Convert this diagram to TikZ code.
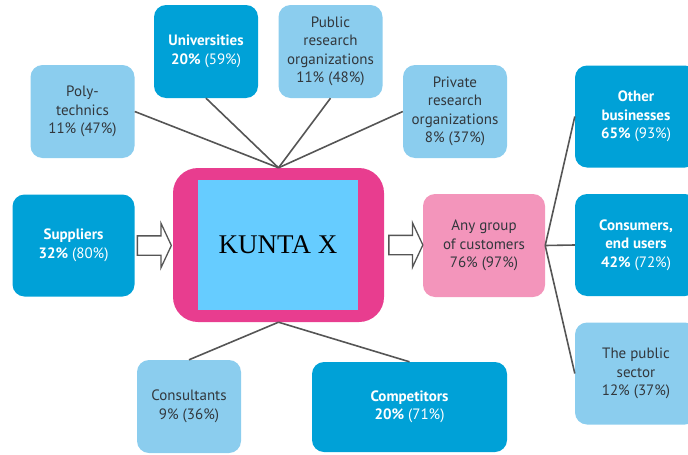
\documentclass[tikz,border=0pt]{standalone}
\usepackage{fontspec}
\setmainfont{PT Sans}
\newfontfamily\kuntafont{Liberation Serif}
\usetikzlibrary{positioning,shapes.arrows}

\definecolor{deepblue}{RGB}{0,161,215}
\definecolor{lightblue}{RGB}{139,205,238}
\definecolor{pinkframe}{RGB}{232,61,143}
\definecolor{innerblue}{RGB}{102,204,255}
\definecolor{custpink}{RGB}{243,149,187}
\definecolor{boxtext}{RGB}{50,55,60}
\definecolor{linkgray}{RGB}{85,85,85}

\begin{document}
\begin{tikzpicture}[x=1pt, y=-1pt,
link/.style={draw=linkgray, line width=1.6pt},
box/.style={
		rounded corners=12pt,
		align=center,
		inner sep=2pt,
		font=\fontsize{15}{18.5}\selectfont,
		},
softbox/.style={box, fill=lightblue, text=boxtext, minimum width=104pt, minimum height=93pt},
bigbox/.style={box, fill=deepblue, text=white, minimum width=122pt, minimum height=102pt},
fatarrow/.style={single arrow, draw=linkgray, fill=white, line width=1.3pt,
		minimum height=34pt, minimum width=44pt, inner xsep=0pt, inner ysep=9pt,
		single arrow head extend=12.5pt, single arrow tip angle=130}
]
\clip (0,0) rectangle (688,455);

% the firm in the middle
\node[fill=pinkframe, rounded corners=25pt, minimum width=211pt, minimum height=154pt] (kunta) at (278.5,245) {};
\node[fill=innerblue, inner sep=0pt, minimum width=160pt, minimum height=130pt,
  font=\kuntafont\fontsize{27}{30}\selectfont] (kuntatext) at (278,245) {KUNTA X};

% research partners
\node[softbox] (poly) at (82.5,111.5) {Poly-\\technics\\11\% (47\%)};
\node[softbox, fill=deepblue, text=white] (uni) at (206,51.5) {\textbf{Universities}\\\textbf{20\%} (59\%)};
\node[softbox] (pubres) at (330.5,51.5) {Public\\research\\organizations\\11\% (48\%)};
\node[softbox] (privres) at (455,111.5) {Private\\research\\organizations\\8\% (37\%)};

% suppliers, consultants, competitors
\node[bigbox] (sup) at (73.5,245.5) {\textbf{Suppliers}\\\textbf{32\%} (80\%)};
\node[softbox] (consult) at (189,406.5) {Consultants\\9\% (36\%)};
\node[bigbox, minimum width=195pt, minimum height=90pt] (comp) at (409.5,407) {\textbf{Competitors}\\\textbf{20\%} (71\%)};

% customers
\node[softbox, fill=custpink, minimum width=122pt, minimum height=103pt] (cust) at (484,245.5) {Any group\\of customers\\76\% (97\%)};
\node[bigbox] (other) at (636,116.5) {\textbf{Other}\\\textbf{businesses}\\\textbf{65\%} (93\%)};
\node[bigbox] (cons) at (636,245) {\textbf{Consumers,}\\\textbf{end users}\\\textbf{42\%} (72\%)};
\node[bigbox, fill=lightblue, text=boxtext] (pubsec) at (636,373.5) {The public\\sector\\12\% (37\%)};

% flow arrows
\node[fatarrow, right=2pt of sup] (arrin) {};
\node[fatarrow, right=4pt of kunta] (arrout) {};

\foreach \t in {poly.east, uni.south, pubres.south, privres.west}
  \draw[link] (kunta.north) -- (\t);
\foreach \t in {consult.north, comp.north}
  \draw[link] (kunta.south) -- (\t);
\foreach \t in {other.west, cons.west, pubsec.west}
  \draw[link] (cust.east) -- (\t);

\end{tikzpicture}
\end{document}
